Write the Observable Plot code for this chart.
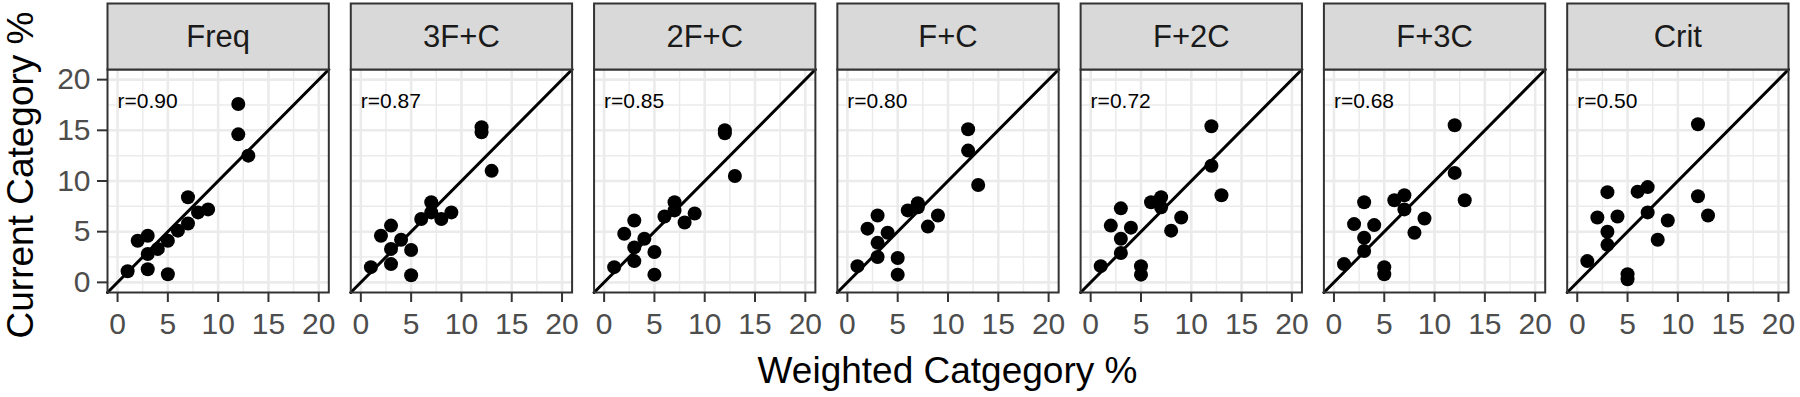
<!DOCTYPE html>
<html><head><meta charset="utf-8">
<script src="https://cdn.jsdelivr.net/npm/d3@7"></script>
<script src="https://cdn.jsdelivr.net/npm/@observablehq/plot@0.6"></script>
<style>body{margin:0;background:#fff;font-family:"Liberation Sans",Arial,sans-serif;}</style>
</head><body><div id="chart"></div>
<script>
// ---- data ----
const panels = ["Freq", "3F+C", "2F+C", "F+C", "F+2C", "F+3C", "Crit"];
const rLabels = ["r=0.90", "r=0.87", "r=0.85", "r=0.80", "r=0.72", "r=0.68", "r=0.50"];
const weighted = [1, 2, 3, 3, 3, 4, 5, 5, 6, 7, 7, 8, 9, 12, 12, 13];
const curFreq = [1.1, 4.1, 4.6, 2.8, 1.3, 3.3, 4.1, 0.8, 5.1, 8.4, 5.8, 6.9, 7.2, 17.6, 14.6, 12.5];
const cur3FC  = [1.5, 4.6, 5.6, 3.3, 1.8, 4.2, 3.2, 0.7, 6.25, 7.9, 6.9, 6.25, 6.9, 15.3, 14.8, 11.0];
const cur2FC  = [1.5, 4.8, 6.1, 3.45, 2.1, 4.3, 3.0, 0.76, 6.5, 7.9, 7.1, 5.9, 6.8, 15.0, 14.7, 10.5];
const curFC   = [1.6, 5.3, 6.6, 3.9, 2.5, 4.9, 2.4, 0.76, 7.1, 7.8, 7.4, 5.5, 6.6, 15.1, 13.0, 9.6];
const curF2C  = [1.6, 5.6, 7.3, 4.3, 2.9, 5.4, 1.6, 0.76, 7.9, 8.4, 7.4, 5.1, 6.4, 15.4, 11.5, 8.6];
const curF3C  = [1.8, 5.75, 7.9, 4.4, 3.1, 5.65, 1.5, 0.8, 8.1, 8.6, 7.2, 4.9, 6.3, 15.5, 10.8, 8.1];
const curCrit = [2.1, 6.4, 8.9, 5.0, 3.7, 6.5, 0.8, 0.3, 8.95, 9.4, 6.9, 4.2, 6.1, 15.6, 8.5, 6.6];
const series = [curFreq, cur3FC, cur2FC, curFC, curF2C, curF3C, curCrit];
const axisDomain = [-1, 21];
const majorTicks = [0, 5, 10, 15, 20];
const minorTicks = [2.5, 7.5, 12.5, 17.5];
const xTitle = "Weighted Catgegory %";
const yTitle = "Current Category %";

// ---- tables ----
const points = panels.flatMap((p, i) => series[i].map((v, j) => ({panel: p, x: weighted[j], y: v})));
const panelRows = panels.map((p, i) => ({panel: p, r: rLabels[i]}));

const W = 1800, H = 397;
const mTop = 69, mBottom = 105, mLeft = 107, mRight = 12;
const panelH = H - mTop - mBottom;
const gridMajor = {stroke: "#EBEBEB", strokeOpacity: 1, strokeWidth: 2.6};
const gridMinor = {stroke: "#EBEBEB", strokeOpacity: 1, strokeWidth: 1.5};

const plot = Plot.plot({
  width: W, height: H,
  marginTop: mTop, marginBottom: mBottom, marginLeft: mLeft, marginRight: mRight,
  style: {fontFamily: "'Liberation Sans', Arial, sans-serif", background: "#fff"},
  fx: {domain: panels, paddingInner: 0.0903, paddingOuter: 0, round: false, axis: null, label: null},
  x: {domain: axisDomain, label: null},
  y: {domain: axisDomain, label: null},
  marks: [
    Plot.gridX({ticks: minorTicks, ...gridMinor}),
    Plot.gridY({ticks: minorTicks, ...gridMinor}),
    Plot.gridX({ticks: majorTicks, ...gridMajor}),
    Plot.gridY({ticks: majorTicks, ...gridMajor}),
    Plot.line(axisDomain, {x: d => d, y: d => d, stroke: "black", strokeWidth: 3}),
    Plot.dot(points, {fx: "panel", x: "x", y: "y", r: 7, fill: "black", stroke: null}),
    Plot.text(panelRows, {fx: "panel", text: "r", frameAnchor: "top-left", lineAnchor: "middle", dx: 10, dy: 32, textAnchor: "start", fontSize: 21, fill: "black"}),
    Plot.frame({stroke: "#333333", strokeWidth: 2}),
    Plot.frame({fill: "#D9D9D9", stroke: "#333333", strokeWidth: 2, insetTop: -66, insetBottom: panelH}),
    Plot.text(panelRows, {fx: "panel", text: "panel", frameAnchor: "top", lineAnchor: "middle", dy: -32, fontSize: 31, fill: "#1A1A1A"}),
    Plot.axisX({ticks: majorTicks, tickSize: 10, tickPadding: 10, fontSize: 30, stroke: "#333333", strokeWidth: 2, fill: "#4D4D4D", label: null}),
    Plot.axisY({ticks: majorTicks, tickSize: 10, tickPadding: 7, fontSize: 30, stroke: "#333333", strokeWidth: 2, fill: "#4D4D4D", label: null})
  ]
});

const svg = d3.select(plot);
svg.append("text")
  .attr("x", (mLeft + W - mRight) / 2).attr("y", 383)
  .attr("text-anchor", "middle").attr("font-size", 37).attr("fill", "black")
  .text(xTitle);
svg.append("text")
  .attr("transform", "translate(33,175) rotate(-90)")
  .attr("text-anchor", "middle").attr("font-size", 37).attr("fill", "black")
  .text(yTitle);

document.getElementById("chart").appendChild(plot);
</script>
</body></html>
